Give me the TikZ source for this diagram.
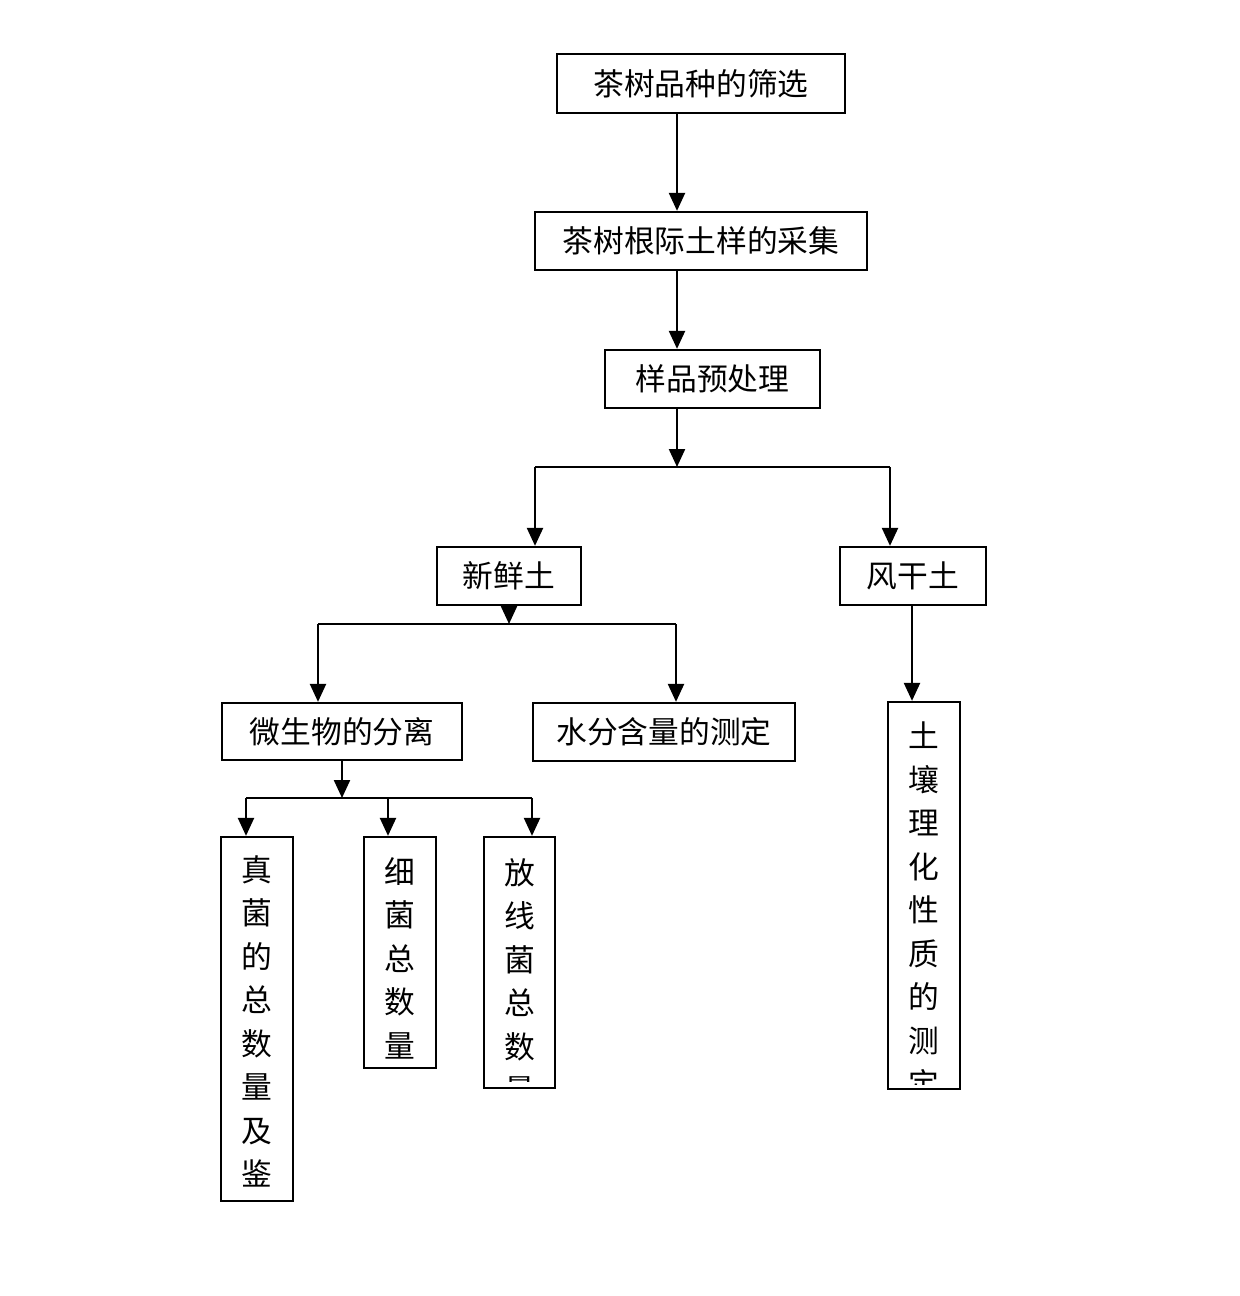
\documentclass[tikz,border=0pt]{standalone}
\usepackage{fontspec}
\setmainfont{Noto Sans CJK SC}
\usetikzlibrary{arrows.meta}

\begin{document}
\begin{tikzpicture}[
   caja/.style={draw,line width=1.3pt,inner sep=0pt,font=\fontsize{17.5}{24.75}\selectfont},
   vtexto/.style={inner sep=0pt,anchor=north,align=center,font=\fontsize{17.5}{24.75}\selectfont},
   flecha/.style={line width=1.3pt,-{Triangle[length=0.36cm,width=0.32cm]}},
   linea/.style={line width=1.3pt}]
   \useasboundingbox (0,0) rectangle (24.8,-25.92);
   %cajas
   \node[caja,minimum width=5.76cm,minimum height=1.18cm] (shaixuan) at (14.02,-1.67) {茶树品种的筛选};
   \node[caja,minimum width=6.64cm,minimum height=1.16cm] (caiji) at (14.02,-4.82) {茶树根际土样的采集};
   \node[caja,minimum width=4.30cm,minimum height=1.16cm] (yuchuli) at (14.25,-7.58) {样品预处理};
   \node[caja,minimum width=2.88cm,minimum height=1.16cm] (xinxian) at (10.18,-11.52) {新鲜土};
   \node[caja,minimum width=2.92cm,minimum height=1.16cm] (fenggan) at (18.26,-11.52) {风干土};
   \node[caja,minimum width=4.80cm,minimum height=1.14cm] (fenli) at (6.84,-14.63) {微生物的分离};
   \node[caja,minimum width=5.24cm,minimum height=1.16cm] (shuifen) at (13.28,-14.64) {水分含量的测定};
   %cajas verticales
   \node[caja,minimum width=1.44cm,minimum height=7.74cm] (turang) at (18.48,-17.91) {};
   \node[caja,minimum width=1.44cm,minimum height=7.28cm] (zhenjun) at (5.14,-20.38) {};
   \node[caja,minimum width=1.44cm,minimum height=4.62cm] (xijun) at (8.00,-19.05) {};
   \node[caja,minimum width=1.42cm,minimum height=5.02cm] (fangxian) at (10.39,-19.25) {};
   \node[vtexto] (zhenjuntxt) at ([yshift=-0.38cm]zhenjun.north) {真\\菌\\的\\总\\数\\量\\及\\鉴};
   \node[vtexto] (xijuntxt) at ([yshift=-0.42cm]xijun.north) {细\\菌\\总\\数\\量};
   \begin{scope}
      \clip (fangxian.south west) ++(0,0.16) rectangle (fangxian.north east);
      \node[vtexto] (fangxiantxt) at ([yshift=-0.44cm]fangxian.north) {放\\线\\菌\\总\\数\\量};
   \end{scope}
   \begin{scope}
      \clip (turang.south west) ++(0,0.12) rectangle (turang.north east);
      \node[vtexto] (turangtxt) at ([yshift=-0.42cm]turang.north) {土\\壤\\理\\化\\性\\质\\的\\测\\定};
   \end{scope}
   %ejes de ramas
   \coordinate (eje) at (13.54,0);
   \coordinate (r1) at (13.54,-9.34);
   \coordinate (r1a) at (10.70,-9.34);
   \coordinate (r1b) at (17.80,-9.34);
   \coordinate (r2) at (10.18,-12.48);
   \coordinate (r2a) at (6.36,-12.48);
   \coordinate (r2b) at (13.52,-12.48);
   \coordinate (r3) at (6.84,-15.96);
   \coordinate (r3a) at (4.92,-15.96);
   \coordinate (r3b) at (7.76,-15.96);
   \coordinate (r3c) at (10.64,-15.96);
   \coordinate (r4) at (18.24,0);
   %flechas
   \draw[flecha] (shaixuan.south -| eje) -- (caiji.north -| eje);
   \draw[flecha] (caiji.south -| eje) -- (yuchuli.north -| eje);
   \draw[flecha] (yuchuli.south -| eje) -- (r1);
   \draw[linea] (r1a) -- (r1b);
   \draw[flecha] (r1a) -- (xinxian.north -| r1a);
   \draw[flecha] (r1b) -- (fenggan.north -| r1b);
   \draw[flecha] (xinxian.south) -- (r2);
   \draw[linea] (r2a) -- (r2b);
   \draw[flecha] (r2a) -- (fenli.north -| r2a);
   \draw[flecha] (r2b) -- (shuifen.north -| r2b);
   \draw[flecha] (fenggan.south -| r4) -- (turang.north -| r4);
   \draw[flecha] (fenli.south -| r3) -- (r3);
   \draw[linea] (r3a) -- (r3c);
   \draw[flecha] (r3a) -- (zhenjun.north -| r3a);
   \draw[flecha] (r3b) -- (xijun.north -| r3b);
   \draw[flecha] (r3c) -- (fangxian.north -| r3c);
\end{tikzpicture}
\end{document}
